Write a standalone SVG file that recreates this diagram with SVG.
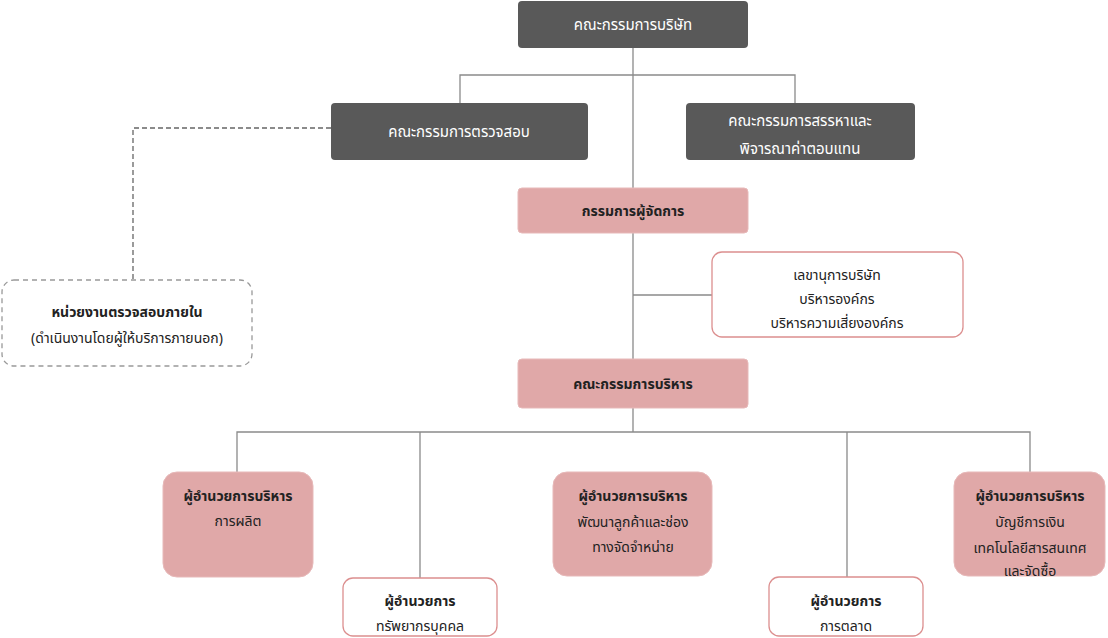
<svg xmlns="http://www.w3.org/2000/svg" width="1108" height="638" viewBox="0 0 1108 638">
<style>
text{font-family:"Noto Sans Thai","Noto Sans","DejaVu Sans",sans-serif;text-anchor:middle;font-size:14px;fill:#222}
.dark rect{fill:#595959}
.dark text{fill:#fff;font-size:15px}
.pink rect{fill:#e0a8a8;stroke:#e7b9b9}
.pink text.h{font-weight:bold}
.white rect{fill:#fff;stroke:#dc8f8f;stroke-width:1.3}
.white text.h{font-weight:bold}
.dash rect{fill:#fff;stroke:#999;stroke-dasharray:5 4;stroke-width:1.3}
.ln{stroke:#8a8a8a;stroke-width:1.3;fill:none}
.dl{stroke:#666;stroke-width:1.3;stroke-dasharray:5 3;fill:none}
</style>
<g id="connectors">
<path class="ln" d="M633 48V432M460 103V75H795V103M633 295H712M237 472V432H1030V472M420 432V578M847 432V577"/>
<path class="dl" d="M331 128H133V280"/>
</g>
<g id="board" class="dark"><rect x="518" y="1" width="230" height="47" rx="4"/><text x="633" y="30">คณะกรรมการบริษัท</text></g>
<g id="audit" class="dark"><rect x="331" y="103" width="257" height="57" rx="4"/><text x="459" y="137">คณะกรรมการตรวจสอบ</text></g>
<g id="nomination" class="dark"><rect x="686" y="103" width="229" height="57" rx="4"/><text x="800" y="126">คณะกรรมการสรรหาและ</text><text x="800" y="154">พิจารณาค่าตอบแทน</text></g>
<g id="md" class="pink"><rect x="518" y="188" width="230" height="45" rx="4"/><text class="h" x="633" y="216">กรรมการผู้จัดการ</text></g>
<g id="secretary" class="white"><rect x="712" y="252" width="251" height="85" rx="10"/><text x="837" y="280">เลขานุการบริษัท</text><text x="837" y="304">บริหารองค์กร</text><text x="837" y="328">บริหารความเสี่ยงองค์กร</text></g>
<g id="internal-audit" class="dash"><rect x="2" y="280" width="250" height="86" rx="12"/><text class="h" x="127" y="317" font-weight="bold">หน่วยงานตรวจสอบภายใน</text><text x="127" y="343">(ดำเนินงานโดยผู้ให้บริการภายนอก)</text></g>
<g id="exec" class="pink"><rect x="518" y="359" width="230" height="49" rx="4"/><text class="h" x="633" y="389">คณะกรรมการบริหาร</text></g>
<g id="production" class="pink"><rect x="163" y="472" width="150" height="105" rx="14"/><text class="h" x="238" y="501">ผู้อำนวยการบริหาร</text><text x="238" y="526">การผลิต</text></g>
<g id="hr" class="white"><rect x="343" y="578" width="154" height="58" rx="10"/><text class="h" x="420" y="606">ผู้อำนวยการ</text><text x="420" y="631">ทรัพยากรบุคคล</text></g>
<g id="customer" class="pink"><rect x="553" y="472" width="159" height="104" rx="14"/><text class="h" x="633" y="501">ผู้อำนวยการบริหาร</text><text x="633" y="527">พัฒนาลูกค้าและช่อง</text><text x="633" y="552">ทางจัดจำหน่าย</text></g>
<g id="marketing" class="white"><rect x="769" y="577" width="154" height="59" rx="10"/><text class="h" x="846" y="606">ผู้อำนวยการ</text><text x="846" y="631">การตลาด</text></g>
<g id="accounting" class="pink"><rect x="954" y="472" width="151" height="104" rx="14"/><text class="h" x="1030" y="501">ผู้อำนวยการบริหาร</text><text x="1030" y="527">บัญชีการเงิน</text><text x="1030" y="553">เทคโนโลยีสารสนเทศ</text><text x="1030" y="576">และจัดซื้อ</text></g>
</svg>
